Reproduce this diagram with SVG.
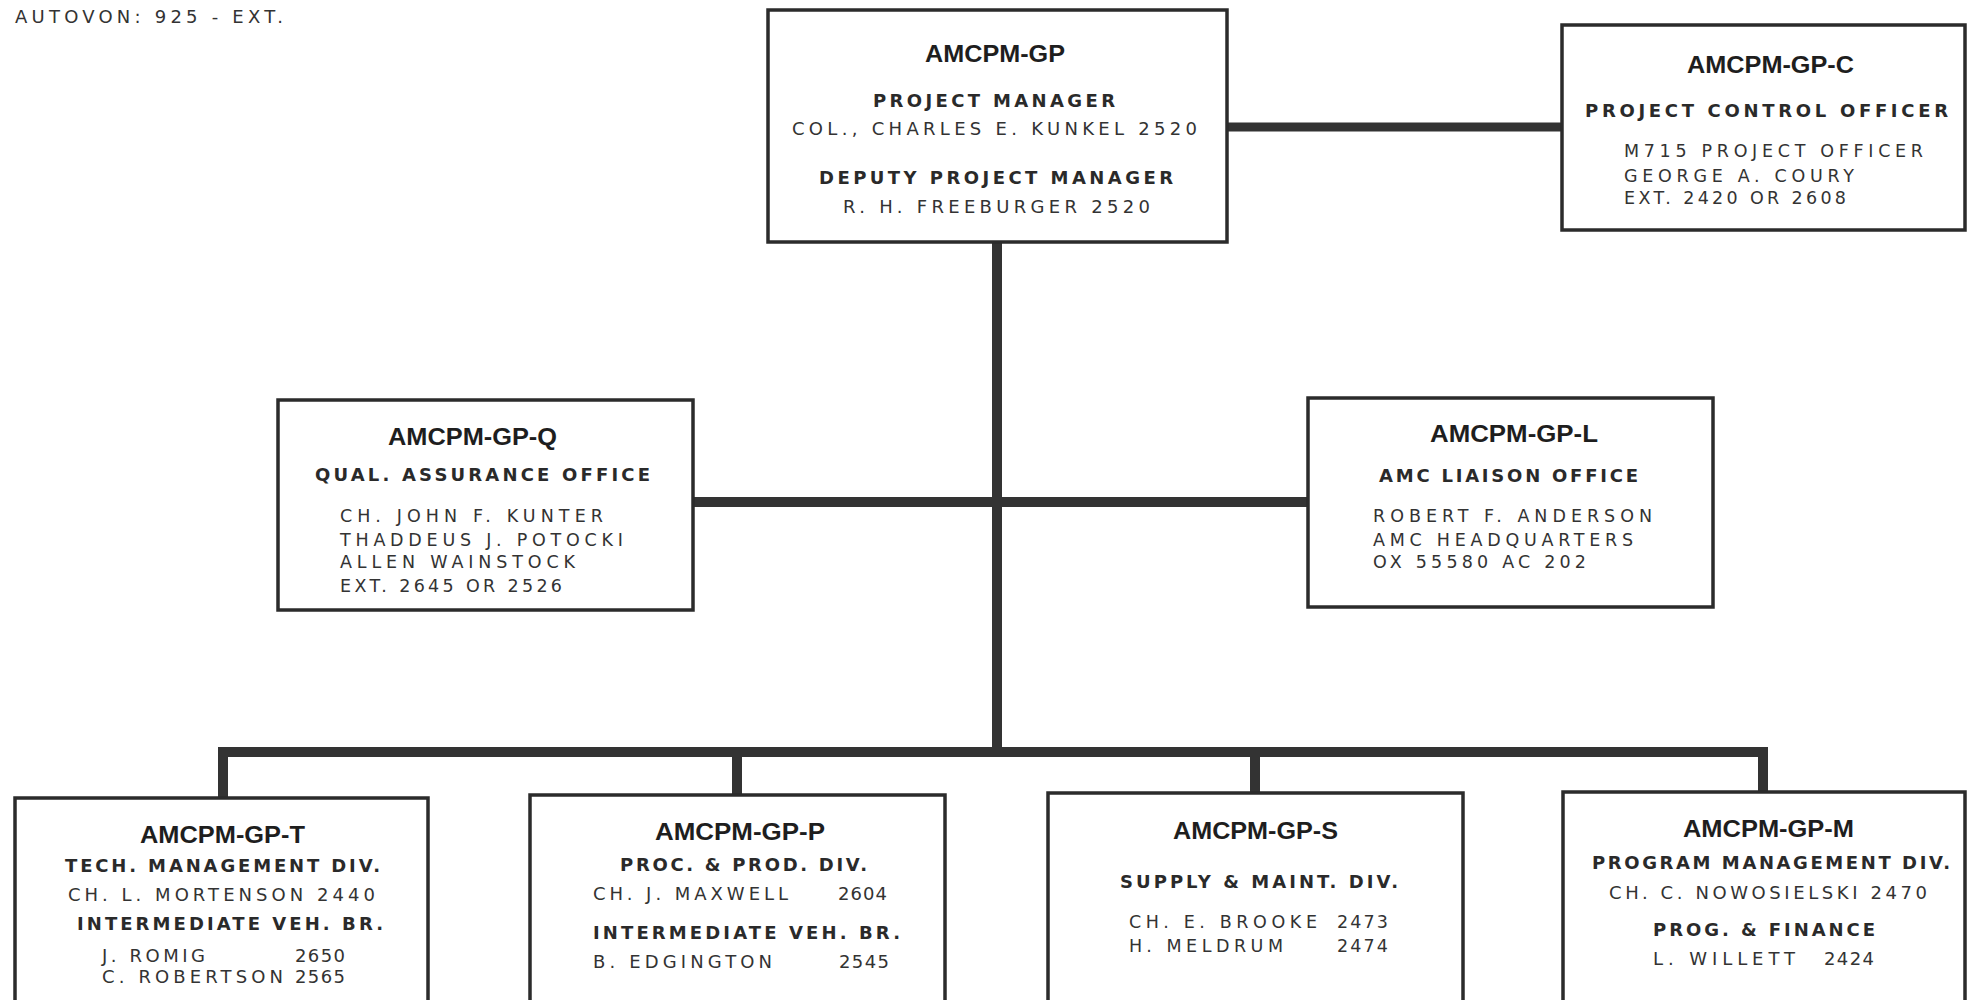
<svg xmlns="http://www.w3.org/2000/svg" width="1968" height="1000" viewBox="0 0 1968 1000">
<style>
.box{fill:#fff;stroke:#2b2b2b;stroke-width:3.5}
.ln{fill:none;stroke:#333;stroke-width:10;stroke-linecap:butt;stroke-linejoin:miter}
text{font-family:"DejaVu Sans","Liberation Sans",Arial,sans-serif}
.t{font-family:"Liberation Sans",Arial,sans-serif;font-size:23px;font-weight:bold;fill:#1e1e1e}
.h{font-size:18px;font-weight:bold;fill:#2a2a2a}
.n{font-size:18px;fill:#333}
.s{font-size:17.5px;fill:#333}
</style>
<rect width="1968" height="1000" fill="#fff"/>
<text class="n" x="15" y="23" textLength="268" lengthAdjust="spacing" fill="#555">AUTOVON:  925 - EXT.</text>

<g id="connectors">
<line class="ln" x1="1227" y1="127" x2="1562" y2="127" style="stroke-width:9"/>
<line class="ln" x1="997" y1="242" x2="997" y2="752"/>
<line class="ln" x1="693" y1="502" x2="1308" y2="502"/>
<path class="ln" d="M223,798 V752 H1763 V792"/>
<line class="ln" x1="737" y1="752" x2="737" y2="795"/>
<line class="ln" x1="1255" y1="752" x2="1255" y2="793"/>
</g>

<g id="gp">
<rect class="box" x="768" y="10" width="459" height="232"/>
<text class="t" x="925" y="62" textLength="140" lengthAdjust="spacingAndGlyphs">AMCPM-GP</text>
<text class="h" x="873" y="107" textLength="242" lengthAdjust="spacing">PROJECT MANAGER</text>
<text class="n" x="792" y="135" textLength="405" lengthAdjust="spacing">COL., CHARLES E. KUNKEL  2520</text>
<text class="h" x="819" y="184" textLength="354" lengthAdjust="spacing">DEPUTY PROJECT MANAGER</text>
<text class="n" x="843" y="213" textLength="307" lengthAdjust="spacing">R. H. FREEBURGER 2520</text>
</g>

<g id="gp-c">
<rect class="box" x="1562" y="25" width="403" height="205"/>
<text class="t" x="1687" y="73" textLength="167" lengthAdjust="spacingAndGlyphs">AMCPM-GP-C</text>
<text class="h" x="1585" y="117" textLength="363" lengthAdjust="spacing">PROJECT CONTROL OFFICER</text>
<text class="s" x="1624" y="157" textLength="299" lengthAdjust="spacing">M715 PROJECT OFFICER</text>
<text class="s" x="1624" y="182" textLength="230" lengthAdjust="spacing">GEORGE A. COURY</text>
<text class="s" x="1624" y="204" textLength="222" lengthAdjust="spacing">EXT. 2420 OR 2608</text>
</g>

<g id="gp-q">
<rect class="box" x="278" y="400" width="415" height="210"/>
<text class="t" x="388" y="445" textLength="169" lengthAdjust="spacingAndGlyphs">AMCPM-GP-Q</text>
<text class="h" x="315" y="481" textLength="335" lengthAdjust="spacing">QUAL. ASSURANCE OFFICE</text>
<text class="s" x="340" y="522" textLength="263" lengthAdjust="spacing">CH. JOHN F. KUNTER</text>
<text class="s" x="340" y="546" textLength="283" lengthAdjust="spacing">THADDEUS J. POTOCKI</text>
<text class="s" x="340" y="568" textLength="235" lengthAdjust="spacing">ALLEN WAINSTOCK</text>
<text class="s" x="340" y="592" textLength="222" lengthAdjust="spacing">EXT. 2645 OR 2526</text>
</g>

<g id="gp-l">
<rect class="box" x="1308" y="398" width="405" height="209"/>
<text class="t" x="1430" y="442" textLength="168" lengthAdjust="spacingAndGlyphs">AMCPM-GP-L</text>
<text class="h" x="1379" y="482" textLength="259" lengthAdjust="spacing">AMC LIAISON OFFICE</text>
<text class="s" x="1373" y="522" textLength="279" lengthAdjust="spacing">ROBERT F. ANDERSON</text>
<text class="s" x="1373" y="546" textLength="260" lengthAdjust="spacing">AMC HEADQUARTERS</text>
<text class="s" x="1373" y="568" textLength="213" lengthAdjust="spacing">OX 55580  AC  202</text>
</g>

<g id="gp-t">
<rect class="box" x="15" y="798" width="413" height="220"/>
<text class="t" x="140" y="843" textLength="165" lengthAdjust="spacingAndGlyphs">AMCPM-GP-T</text>
<text class="h" x="65" y="872" textLength="315" lengthAdjust="spacing">TECH. MANAGEMENT DIV.</text>
<text class="n" x="68" y="901" textLength="307" lengthAdjust="spacing">CH. L. MORTENSON  2440</text>
<text class="h" x="77" y="930" textLength="306" lengthAdjust="spacing">INTERMEDIATE VEH. BR.</text>
<text class="n" x="102" y="962" textLength="103" lengthAdjust="spacing">J. ROMIG</text>
<text class="n" x="295" y="962" textLength="50" lengthAdjust="spacing">2650</text>
<text class="n" x="102" y="983" textLength="181" lengthAdjust="spacing">C. ROBERTSON</text>
<text class="n" x="295" y="983" textLength="50" lengthAdjust="spacing">2565</text>
</g>

<g id="gp-p">
<rect class="box" x="530" y="795" width="415" height="220"/>
<text class="t" x="655" y="840" textLength="170" lengthAdjust="spacingAndGlyphs">AMCPM-GP-P</text>
<text class="h" x="620" y="871" textLength="247" lengthAdjust="spacing">PROC. &amp; PROD. DIV.</text>
<text class="n" x="593" y="900" textLength="195" lengthAdjust="spacing">CH. J. MAXWELL</text>
<text class="n" x="838" y="900" textLength="49" lengthAdjust="spacing">2604</text>
<text class="h" x="593" y="939" textLength="307" lengthAdjust="spacing">INTERMEDIATE VEH. BR.</text>
<text class="n" x="593" y="968" textLength="179" lengthAdjust="spacing">B. EDGINGTON</text>
<text class="n" x="839" y="968" textLength="50" lengthAdjust="spacing">2545</text>
</g>

<g id="gp-s">
<rect class="box" x="1048" y="793" width="415" height="220"/>
<text class="t" x="1173" y="839" textLength="165" lengthAdjust="spacingAndGlyphs">AMCPM-GP-S</text>
<text class="h" x="1120" y="888" textLength="278" lengthAdjust="spacing">SUPPLY &amp; MAINT. DIV.</text>
<text class="s" x="1129" y="928" textLength="188" lengthAdjust="spacing">CH. E. BROOKE</text>
<text class="s" x="1337" y="928" textLength="51" lengthAdjust="spacing">2473</text>
<text class="s" x="1129" y="952" textLength="154" lengthAdjust="spacing">H. MELDRUM</text>
<text class="s" x="1337" y="952" textLength="51" lengthAdjust="spacing">2474</text>
</g>

<g id="gp-m">
<rect class="box" x="1563" y="792" width="402" height="220"/>
<text class="t" x="1683" y="837" textLength="171" lengthAdjust="spacingAndGlyphs">AMCPM-GP-M</text>
<text class="h" x="1592" y="869" textLength="358" lengthAdjust="spacing">PROGRAM MANAGEMENT DIV.</text>
<text class="n" x="1609" y="899" textLength="318" lengthAdjust="spacing">CH. C. NOWOSIELSKI  2470</text>
<text class="h" x="1653" y="936" textLength="222" lengthAdjust="spacing">PROG. &amp; FINANCE</text>
<text class="n" x="1653" y="965" textLength="142" lengthAdjust="spacing">L. WILLETT</text>
<text class="n" x="1824" y="965" textLength="50" lengthAdjust="spacing">2424</text>
</g>
</svg>
